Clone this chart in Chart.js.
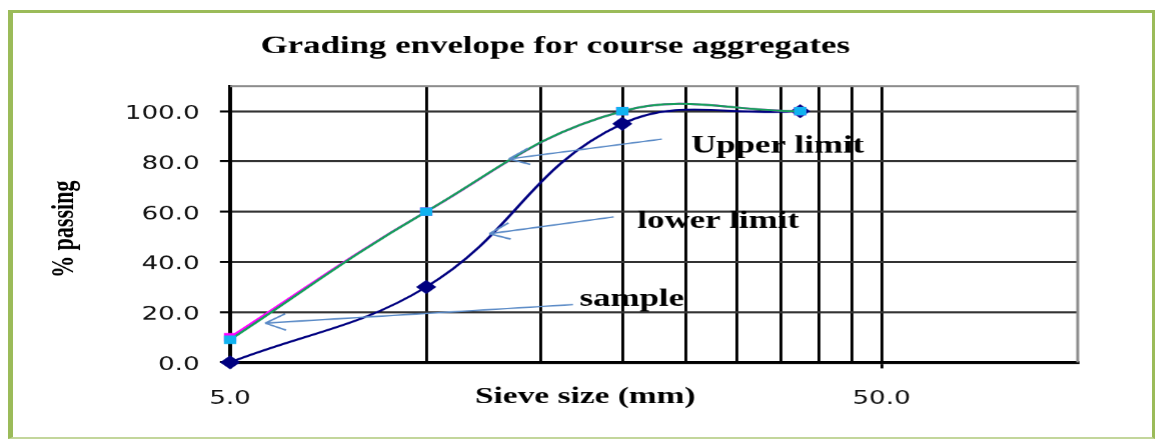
<!DOCTYPE html>
<html>
<head>
<meta charset="utf-8">
<script src="https://cdn.jsdelivr.net/npm/chart.js@4/dist/chart.umd.min.js"></script>
<style>
  html, body { margin: 0; padding: 0; background: #fff; }
  body { width: 1155px; height: 439px; position: relative; overflow: hidden; }
  #frame {
    position: absolute; left: 8px; top: 10px;
    width: 1139px; height: 424px;
    border-left: 5px solid #9BBB59; border-top: 3px solid #9BBB59;
    border-right: 3px solid #9BBB59; border-bottom: 2px solid #C3D69B;
  }
  /* the original picture is stretched sideways, so the chart is drawn narrow and widened */
  #chart {
    position: absolute; left: 0; top: 0;
    width: 797px; height: 439px;
    transform: scaleX(1.45); transform-origin: 0 0;
  }
</style>
</head>
<body>
<div id="frame"></div>
<canvas id="chart" width="797" height="439"></canvas>
<script>
// ---- data ----
const sieveSizes = [5, 10, 20, 37.5];
const upperLimit = [10, 60, 100, 100];
const lowerLimit = [9, 60, 100, 100];
const samplePassing = [0, 30, 95, 100];

const yTicks = [0, 20, 40, 60, 80, 100];
const xGridValues = [5, 10, 15, 20, 25, 30, 35, 40, 45, 50];
const xLabelled = [5, 50];

// callout labels and arrows, in data units (sieve mm, % passing)
const noteTexts = ['Upper limit', 'lower limit', 'sample'];
const noteAt = [[25.5, 83.5], [21.1, 53.7], [17.2, 22.6]];
const arrowFrom = [[23.0, 88.9], [19.4, 57.9], [16.8, 23.0]];
const arrowTo = [[13.4, 81.0], [12.5, 51.2], [5.66, 15.6]];

const STRETCH = 1.45;
const serif = "'Liberation Serif', 'Times New Roman', serif";

const pts = vals => sieveSizes.map((s, i) => ({ x: s, y: vals[i] }));

const notes = {
  id: 'notes',
  beforeDatasetsDraw(chart) {
    const { ctx, chartArea: a } = chart;
    ctx.save();
    ctx.strokeStyle = '#8c8c8c';
    ctx.lineWidth = 2;
    ctx.beginPath();
    ctx.moveTo(a.left, a.top);
    ctx.lineTo(a.right, a.top);
    ctx.lineTo(a.right, a.bottom);
    ctx.stroke();
    ctx.restore();
  },
  afterDatasetsDraw(chart) {
    const { ctx, scales: { x, y } } = chart;
    ctx.save();
    // arrows
    ctx.strokeStyle = '#5A8AC6';
    ctx.lineWidth = 1.5;
    arrowFrom.forEach((f, i) => {
      const tx = x.getPixelForValue(f[0]), ty = y.getPixelForValue(f[1]);
      const hx = x.getPixelForValue(arrowTo[i][0]), hy = y.getPixelForValue(arrowTo[i][1]);
      ctx.beginPath();
      ctx.moveTo(tx, ty);
      ctx.lineTo(hx, hy);
      const ang = Math.atan2(ty - hy, (tx - hx) * STRETCH);
      [0.38, -0.38].forEach(d => {
        ctx.moveTo(hx, hy);
        ctx.lineTo(hx + 22 * Math.cos(ang + d) / STRETCH, hy + 22 * Math.sin(ang + d));
      });
      ctx.stroke();
    });
    // labels
    ctx.fillStyle = '#000';
    ctx.font = 'bold 24px ' + serif;
    ctx.textAlign = 'left';
    ctx.textBaseline = 'alphabetic';
    noteTexts.forEach((t, i) => {
      ctx.fillText(t, x.getPixelForValue(noteAt[i][0]), y.getPixelForValue(noteAt[i][1]));
    });
    // titles
    ctx.textAlign = 'center';
    ctx.fillText('Grading envelope for course aggregates', 555 / STRETCH, 53);
    ctx.font = 'bold 23px ' + serif;
    ctx.fillText('Sieve size (mm)', 585 / STRETCH, 403);
    ctx.translate(65 / STRETCH, 229);
    ctx.rotate(-Math.PI / 2);
    ctx.font = 'bold 22px ' + serif;
    ctx.textBaseline = 'middle';
    ctx.fillText('% passing', 0, 0);
    ctx.restore();
  }
};

new Chart(document.getElementById('chart'), {
  type: 'line',
  data: {
    datasets: [
      {
        label: 'Lower limit',
        data: pts(lowerLimit),
        borderColor: '#14A05A',
        borderWidth: 2,
        pointStyle: 'rect',
        pointRadius: 6,
        pointBackgroundColor: '#10B2F0',
        pointBorderColor: '#10B2F0',
        pointBorderWidth: 0,
        tension: 0.4,
        clip: false
      },
      {
        label: 'Upper limit',
        data: pts(upperLimit),
        borderColor: '#FF00FF',
        borderWidth: 2,
        pointStyle: 'rect',
        pointRadius: 6,
        pointBackgroundColor: '#FF00FF',
        pointBorderColor: '#FF00FF',
        pointBorderWidth: 0,
        tension: 0.4,
        clip: false
      },
      {
        label: 'Sample',
        data: pts(samplePassing),
        borderColor: '#000080',
        borderWidth: 2,
        pointStyle: 'rectRot',
        pointRadius: 7,
        pointBackgroundColor: '#000080',
        pointBorderColor: '#000080',
        pointBorderWidth: 0,
        tension: 0.4,
        clip: false
      }
    ]
  },
  options: {
    responsive: false,
    animation: false,
    devicePixelRatio: STRETCH,
    layout: { padding: { left: 38.6, right: 54.2, top: 86, bottom: 27 } },
    plugins: { legend: { display: false }, title: { display: false }, tooltip: { enabled: false } },
    scales: {
      x: {
        type: 'logarithmic',
        min: 5,
        max: 100,
        afterBuildTicks: s => { s.ticks = xGridValues.map(v => ({ value: v })); },
        afterFit: s => { s.height = 50; },
        grid: {
          color: '#000',
          lineWidth: 2,
          tickLength: 6,
          tickWidth: 2,
          tickColor: c => (c.tick && xLabelled.includes(c.tick.value)) ? '#000' : 'rgba(0,0,0,0)'
        },
        border: { display: true, color: '#000', width: 3 },
        ticks: {
          autoSkip: false,
          maxRotation: 0,
          padding: 20,
          color: '#111',
          font: { family: "'DejaVu Sans', Verdana, sans-serif", size: 18 },
          callback: v => xLabelled.includes(v) ? v.toFixed(1) : ''
        }
      },
      y: {
        min: 0,
        max: 110,
        afterBuildTicks: s => { s.ticks = yTicks.map(v => ({ value: v })); },
        afterFit: s => { s.width = 120; },
        grid: { color: '#333', lineWidth: 2, tickLength: 7, tickColor: '#000', tickWidth: 2 },
        border: { display: true, color: '#000', width: 2.6 },
        ticks: {
          padding: 14,
          labelOffset: 3,
          color: '#111',
          font: { family: "'DejaVu Sans', Verdana, sans-serif", size: 18 },
          callback: v => v.toFixed(1)
        }
      }
    }
  },
  plugins: [notes]
});
</script>
</body>
</html>
